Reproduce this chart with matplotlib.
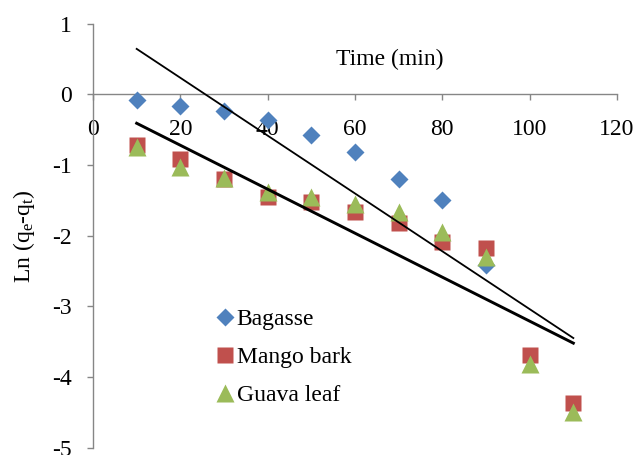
import numpy as np
import matplotlib
matplotlib.use("Agg")
import matplotlib.pyplot as plt

plt.rcParams['font.family'] = ['Liberation Serif', 'DejaVu Serif']
plt.rcParams['mathtext.fontset'] = 'custom'
plt.rcParams['mathtext.rm'] = 'Liberation Serif'
plt.rcParams['mathtext.it'] = 'Liberation Serif:italic'
plt.rcParams['axes.unicode_minus'] = False

# time (min)
t_bagasse = [10, 20, 30, 40, 50, 60, 70, 80, 90]
t_other = [10, 20, 30, 40, 50, 60, 70, 80, 90, 100, 110]

# Ln(qe - qt)
bagasse = [-0.08, -0.16, -0.24, -0.37, -0.58, -0.82, -1.20, -1.49, -2.42]
mango = [-0.72, -0.92, -1.20, -1.45, -1.53, -1.67, -1.82, -2.09, -2.18, -3.69, -4.37]
guava = [-0.74, -1.03, -1.19, -1.38, -1.45, -1.55, -1.67, -1.95, -2.30, -3.81, -4.49]

# linear trendlines (slope, intercept) and their x span
trend_thin = (-0.0409, 1.05)
trend_thick = (-0.0311, -0.10)
trend_x = np.array([10, 110])

blue = '#4F81BD'
red = '#C0504D'
green = '#9BBB59'
grey = '#868686'
fs = 17

fig = plt.figure(figsize=(6.36, 4.55), dpi=100)
ax = fig.add_axes([93/636, 1 - 447.7/455, 524/636, 424.2/455])

ax.plot(t_bagasse, bagasse, 'D', color=blue, ms=9, mec='none', label='Bagasse', zorder=3)
ax.plot(t_other, mango, 's', color=red, ms=11.5, mec='none', label='Mango bark', zorder=3)
ax.plot(t_other, guava, '^', color=green, ms=12.5, mec='none', label='Guava leaf', zorder=3)

m, b = trend_thin
ax.plot(trend_x, m*trend_x + b, color='black', lw=1.3, zorder=4)
m, b = trend_thick
ax.plot(trend_x, m*trend_x + b, color='black', lw=2.1, zorder=4)

ax.set_xlim(0, 120)
ax.set_ylim(-5, 1)
ax.set_xticks(range(0, 121, 20))
ax.set_yticks(range(-5, 2))

for s in ['top', 'right']:
    ax.spines[s].set_visible(False)
ax.spines['bottom'].set_position(('data', 0))
for s in ['bottom', 'left']:
    ax.spines[s].set_color(grey)
    ax.spines[s].set_linewidth(1.0)

ax.tick_params(axis='x', direction='out', length=4.5, width=1.0, color=grey,
               labelsize=fs, pad=13)
ax.tick_params(axis='y', direction='out', length=4.5, width=1.0, color=grey,
               labelsize=fs, pad=11)

ax.set_xlabel('Time (min)', fontsize=fs)
ax.xaxis.set_label_coords(0.567, 0.915)
ax.xaxis.label.set_va('center')
ax.set_ylabel('Ln (q$_{\\mathrm{e}}$-q$_{\\mathrm{t}}$)', fontsize=fs)
ax.yaxis.set_label_coords(-0.106, 0.50)

ax.legend(loc='upper left', bbox_to_anchor=(0.218, 0.35), frameon=False, fontsize=fs,
          numpoints=1, handlelength=0.7, handletextpad=0.15, labelspacing=0.7,
          borderaxespad=0)

fig.savefig('out.png', dpi=100)
